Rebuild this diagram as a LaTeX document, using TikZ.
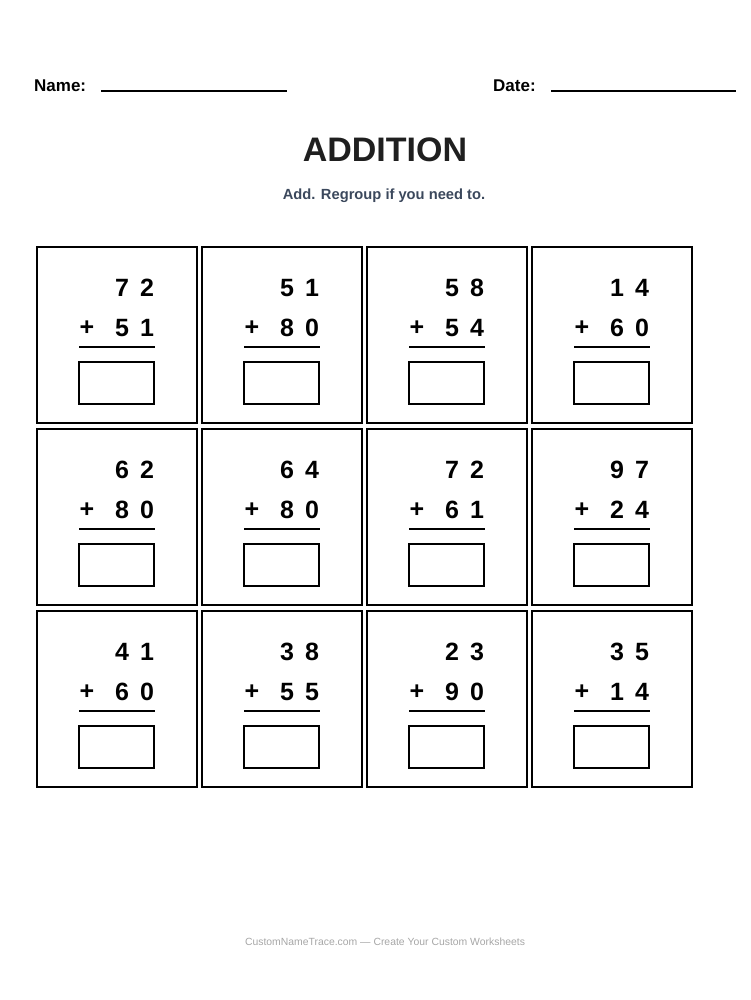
\documentclass[tikz,border=0pt]{standalone}
\usepackage{fontspec}
\setmainfont{Liberation Sans}
\begin{document}
\begin{tikzpicture}[x=1pt,y=-1pt,
  cell/.style={draw,line width=1.6pt,minimum width=160pt,minimum height=176pt,anchor=north west,inner sep=0},
  ans/.style={draw,line width=2pt,minimum width=75pt,minimum height=42pt,anchor=north west,inner sep=0},
  dig/.style={font=\fontsize{25}{25}\selectfont\bfseries,inner sep=0},
  bar/.style={line width=2pt}]
\useasboundingbox (0,0) rectangle (750,1000);
\node[font=\fontsize{17}{17}\selectfont\bfseries,anchor=west,inner sep=0] (nm) at (34,86) {Name:};
\coordinate (n1) at (101,91); \coordinate (n2) at (287,91);
\draw[line width=1.4pt] (n1)--(n2);
\node[font=\fontsize{17}{17}\selectfont\bfseries,anchor=west,inner sep=0] (dt) at (493,86) {Date:};
\coordinate (d1) at (551,91); \coordinate (d2) at (736,91);
\draw[line width=1.4pt] (d1)--(d2);
\node[font=\fontsize{34}{34}\selectfont\bfseries,text=black!88] (title) at (385,150) {ADDITION};
\node[font=\fontsize{14.7}{14.7}\selectfont\bfseries,text={rgb,255:red,59;green,72;blue,92}] (sub) at (384,196) {Add. Regroup if you need to.};
\node[font=\fontsize{10.4}{10.4}\selectfont,text=black!35] (foot) at (385,942) {CustomNameTrace.com — Create Your Custom Worksheets};
\foreach \r/\row in {0/{7/2/5/1,5/1/8/0,5/8/5/4,1/4/6/0},1/{6/2/8/0,6/4/8/0,7/2/6/1,9/7/2/4},2/{4/1/6/0,3/8/5/5,2/3/9/0,3/5/1/4}}{
  \foreach \a/\b/\c/\d [count=\i from 0] in \row {
    \pgfmathsetmacro\X{36+165*\i}
    \pgfmathsetmacro\Y{246+182*\r}
    \node[cell] (c\r\i) at (\X,\Y) {};
    \node[dig] (t\r\i) at (\X+86,\Y+42) {\a};
    \node[dig] (o\r\i) at (\X+111,\Y+42) {\b};
    \node[dig] (p\r\i) at (\X+51,\Y+82) {+};
    \node[dig] (u\r\i) at (\X+86,\Y+82) {\c};
    \node[dig] (v\r\i) at (\X+111,\Y+82) {\d};
    \coordinate (l\r\i) at (\X+43,\Y+101);
    \coordinate (m\r\i) at (\X+119,\Y+101);
    \draw[bar] (l\r\i)--(m\r\i);
    \node[ans] (a\r\i) at (\X+42,\Y+115) {};
  }
}
\end{tikzpicture}
\end{document}
